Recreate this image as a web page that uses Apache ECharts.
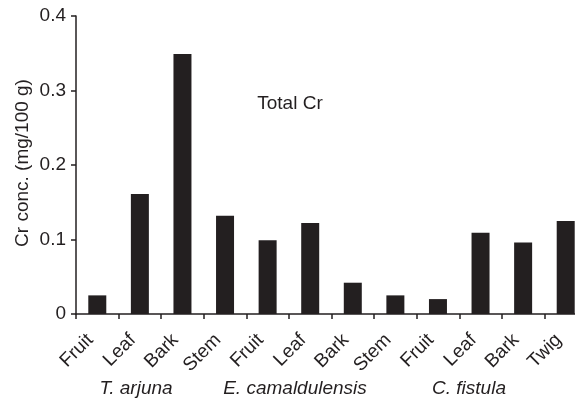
<!DOCTYPE html>
<html>
<head>
<meta charset="utf-8">
<script src="https://cdn.jsdelivr.net/npm/echarts@6/dist/echarts.min.js"></script>
<style>
html,body{margin:0;padding:0;background:#fff;overflow:hidden;width:575px;height:398px;}
#chart{width:587px;height:398px;}
</style>
</head>
<body>
<div id="chart"></div>
<script>
var categories = ['Fruit','Leaf','Bark','Stem','Fruit','Leaf','Bark','Stem','Fruit','Leaf','Bark','Twig'];
var crValues = [0.025, 0.161, 0.349, 0.132, 0.099, 0.122, 0.042, 0.025, 0.020, 0.109, 0.096, 0.125];
var yTicks = [0, 0.1, 0.2, 0.3, 0.4];
var species = ['T. arjuna', 'E. camaldulensis', 'C. fistula'];
var speciesX = [136, 295, 469];
var annotation = 'Total Cr';
var yTitle = 'Cr conc. (mg/100 g)';

var ink = '#231f20';
var fontFamily = '"Liberation Sans", Arial, sans-serif';
var chart = echarts.init(document.getElementById('chart'), null, {renderer:'canvas'});

var graphics = species.map(function(name, i){
  return {type:'text', x: speciesX[i], y: 389,
    style:{text:name, fill:ink, font:'italic 19px ' + fontFamily, textAlign:'center', textVerticalAlign:'middle'}};
});
graphics.push({type:'text', x: 290, y: 104,
  style:{text:annotation, fill:ink, font:'19px ' + fontFamily, textAlign:'center', textVerticalAlign:'middle'}});
graphics.push({type:'text', x: 23, y: 163, rotation: Math.PI/2,
  style:{text:yTitle, fill:ink, font:'19px ' + fontFamily, textAlign:'center', textVerticalAlign:'middle'}});

chart.setOption({
  animation:false,
  backgroundColor:'#fff',
  grid:{left:76, top:16, right:0, bottom:84, containLabel:false},
  xAxis:{
    type:'category', data:categories,
    axisLine:{lineStyle:{color:ink, width:1.5}},
    axisTick:{show:true, interval:0, length:5, lineStyle:{color:ink, width:1.5}},
    axisLabel:{interval:0, rotate:45, color:ink, fontSize:19, fontFamily:fontFamily, margin:16, padding:[0,10,62,0]},
    splitLine:{show:false}
  },
  yAxis:{
    type:'value', min:yTicks[0], max:yTicks[yTicks.length-1], interval:0.1,
    axisLine:{show:true, lineStyle:{color:ink, width:1.5}},
    axisTick:{show:true, length:5, lineStyle:{color:ink, width:1.5}},
    axisLabel:{color:ink, fontSize:19, fontFamily:fontFamily, margin:10,
      formatter:function(v){return v===0?'0':v.toFixed(1);}},
    splitLine:{show:false}
  },
  series:[{type:'bar', data:crValues, barWidth:18, itemStyle:{color:ink}}],
  graphic:graphics
});
</script>
</body>
</html>
